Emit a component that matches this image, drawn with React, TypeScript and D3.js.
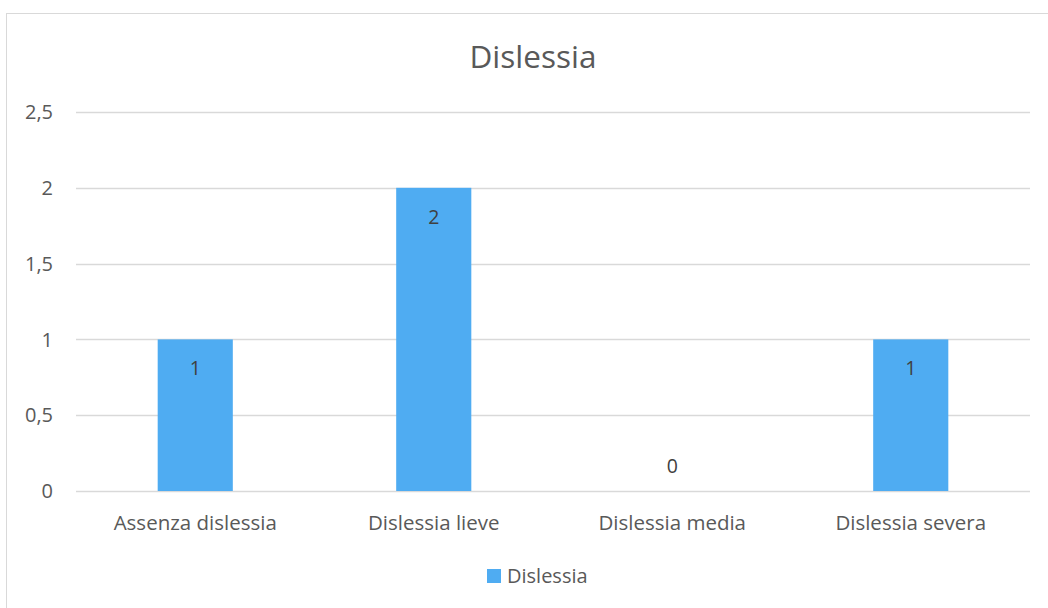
import React from "react";
import * as d3 from "d3";

const categories = ["Assenza dislessia", "Dislessia lieve", "Dislessia media", "Dislessia severa"];
const values = [1, 2, 0, 1];
const yTicks = [0, 0.5, 1, 1.5, 2, 2.5];
const seriesName = "Dislessia";
const title = "Dislessia";

const W = 1048;
const H = 608;
const FONT = "'Open Sans', sans-serif";
const TEXT = "#595959";
const GRID = "#D9D9D9";
const BAR = "#4FACF2";

export default function App() {
  const left = 76;
  const right = 1030;
  const top = 112;
  const bottom = 491;
  const x = d3.scaleBand<string>().domain(categories).range([left, right]).padding(0);
  const y = d3.scaleLinear().domain([0, 2.5]).range([bottom, top]);
  const barW = x.bandwidth() * 0.315;
  const fmt = (v: number) => String(v).replace(".", ",");

  return (
    <svg width={W} height={H} style={{ position: "absolute", left: 0, top: 0, background: "#fff" }}>
      <rect x={6.5} y={13.5} width={W + 20} height={H + 20} fill="#fff" stroke={GRID} strokeWidth={1} />
      <text x={533} y={68} textAnchor="middle" fontFamily={FONT} fontSize={31.5} fill={TEXT}>
        {title}
      </text>
      {yTicks.map((t) => (
        <g key={t}>
          <line x1={left} x2={right} y1={Math.round(y(t)) + 0.5} y2={Math.round(y(t)) + 0.5} stroke={GRID} strokeWidth={1.3} />
          <text x={53} y={y(t)} dy="0.36em" textAnchor="end" fontFamily={FONT} fontSize={20} fill={TEXT}>
            {fmt(t)}
          </text>
        </g>
      ))}
      {categories.map((c, i) => {
        const cx = (x(c) as number) + x.bandwidth() / 2;
        const v = values[i];
        return (
          <g key={c}>
            {v > 0 && (
              <rect x={cx - barW / 2} y={y(v)} width={barW} height={y(0) - y(v)} fill={BAR} />
            )}
            <text
              x={cx}
              y={v > 0 ? y(v) + 36 : y(0) - 18}
              textAnchor="middle"
              fontFamily={FONT}
              fontSize={19.5}
              fill="#404040"
            >
              {fmt(v)}
            </text>
            <text x={cx} y={530} textAnchor="middle" fontFamily={FONT} fontSize={20.5} fill={TEXT}>
              {c}
            </text>
          </g>
        );
      })}
      <rect x={487} y={569} width={14} height={14} fill={BAR} />
      <text x={507} y={583} fontFamily={FONT} fontSize={20} fill={TEXT}>
        {seriesName}
      </text>
    </svg>
  );
}
